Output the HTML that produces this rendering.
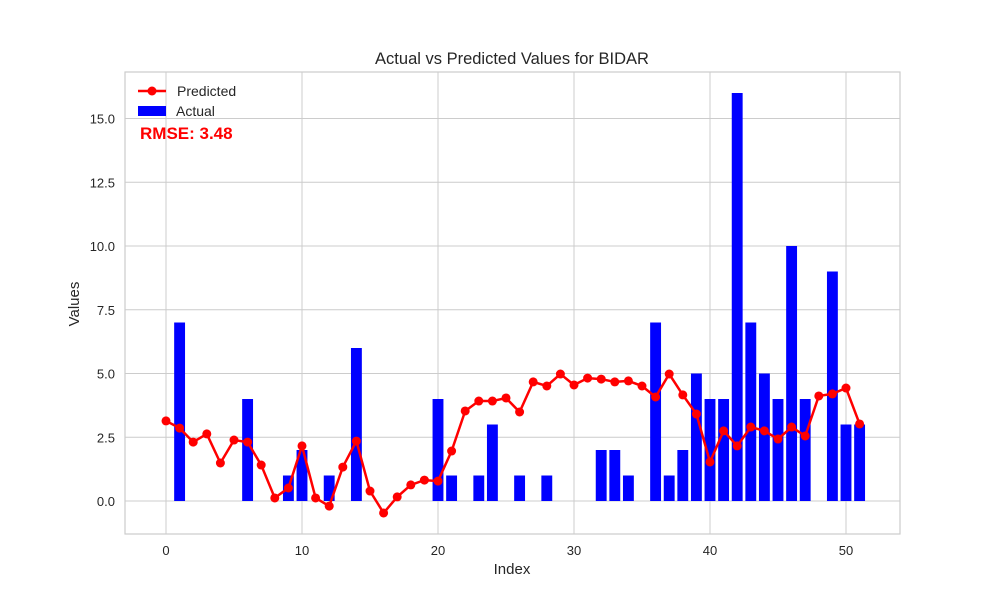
<!DOCTYPE html>
<html><head><meta charset="utf-8"><style>
body{margin:0;background:#fff;font-family:"Liberation Sans",sans-serif}
</style></head><body>
<svg id="chart" width="1000" height="600" xmlns="http://www.w3.org/2000/svg" font-family="Liberation Sans, sans-serif">
<rect width="1000" height="600" fill="#fff"/>
<rect x="125" y="72" width="775" height="462" fill="#fff" stroke="#ccc" stroke-width="1.2"/>
<g id="grid"></g><g id="bars"></g><g id="line"></g><g id="ticks"></g>
<text x="512" y="64" text-anchor="middle" font-size="16.5" fill="#262626">Actual vs Predicted Values for BIDAR</text>
<text x="512" y="574" text-anchor="middle" font-size="15" fill="#262626">Index</text>
<text x="79" y="304" text-anchor="middle" font-size="15" fill="#262626" transform="rotate(-90 79 304)">Values</text>
<g>
<g><line x1="138" y1="91" x2="166" y2="91" stroke="red" stroke-width="2.5"/><circle cx="152" cy="91" r="4.5" fill="red"/><text x="177" y="96" font-size="14" fill="#262626">Predicted</text></g>
<g><rect x="138" y="106" width="28" height="10" fill="blue"/><text x="176" y="116" font-size="14" fill="#262626">Actual</text></g>
</g>
<text x="140" y="139" font-size="17" font-weight="bold" fill="red">RMSE: 3.48</text>
</svg>
<script>
const actual=[0,7,0,0,0,0,4,0,0,1,2,0,1,0,6,0,0,0,0,0,4,1,0,1,3,0,1,0,1,0,0,0,2,2,1,0,7,1,2,5,4,4,16,7,5,4,10,4,0,9,3,3];
const predicted=[3.14,2.86,2.31,2.63,1.49,2.39,2.31,1.41,0.12,0.51,2.16,0.12,-0.2,1.33,2.35,0.39,-0.47,0.16,0.63,0.82,0.78,1.96,3.53,3.92,3.92,4.04,3.49,4.67,4.51,4.98,4.55,4.82,4.78,4.67,4.71,4.51,4.08,4.98,4.16,3.41,1.53,2.75,2.16,2.9,2.75,2.43,2.9,2.55,4.12,4.2,4.43,3.02];
const xTicks=[0,10,20,30,40,50];
const yTicks=[0,2.5,5,7.5,10,12.5,15];
const NS="http://www.w3.org/2000/svg";
const xs=v=>166+v*13.6, ys=v=>501-v*25.5;
function mk(t,a,p){const e=document.createElementNS(NS,t);for(const k in a)e.setAttribute(k,a[k]);p.appendChild(e);return e;}
const g=document.getElementById('grid'),tk=document.getElementById('ticks');
xTicks.forEach(t=>{const l=mk('line',{x1:xs(t),x2:xs(t),y1:72,y2:534,stroke:'#ccc','stroke-width':1},g);

const s=mk('text',{x:xs(t),y:555,'text-anchor':'middle','font-size':13,fill:'#262626'},tk);s.textContent=t;
});
yTicks.forEach(t=>{const l=mk('line',{x1:125,x2:900,y1:ys(t),y2:ys(t),stroke:'#ccc','stroke-width':1},g);

const s=mk('text',{x:115,y:ys(t)+5,'text-anchor':'end','font-size':13,fill:'#262626'},tk);s.textContent=t.toFixed(1);
});
const b=document.getElementById('bars');
actual.forEach((v,i)=>{if(!v)return;const r=mk('rect',{x:xs(i-0.4),width:0.8*13.6,y:ys(Math.max(v,0)),height:Math.abs(v)*25.5,fill:'blue'},b);
});
const ln=document.getElementById('line');
const p=mk('polyline',{points:predicted.map((v,i)=>xs(i)+','+ys(v)).join(' '),fill:'none',stroke:'red','stroke-width':2.5},ln);

predicted.forEach((v,i)=>{const c=mk('circle',{cx:xs(i),cy:ys(v),r:4.5,fill:'red'},ln);
});
</script>
</body></html>
